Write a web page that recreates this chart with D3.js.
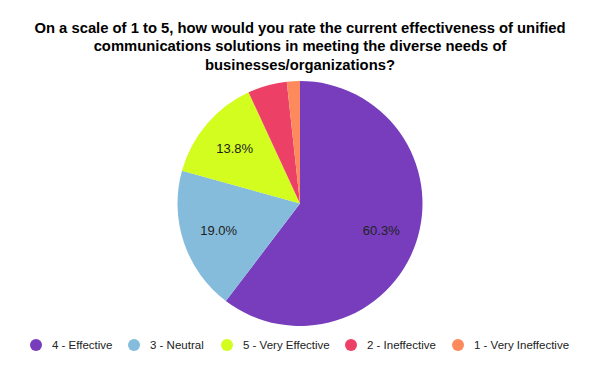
<!DOCTYPE html>
<html><head><meta charset="utf-8">
<script src="https://cdn.jsdelivr.net/npm/d3@7"></script>
<style>body{margin:0;background:#fff}svg{display:block;font-family:Arial,"Liberation Sans",sans-serif}</style>
</head><body>
<svg id="c" width="600" height="371"></svg>
<script>
const categories = ["4 - Effective","3 - Neutral","5 - Very Effective","2 - Ineffective","1 - Very Ineffective"];
const values = [35, 11, 8, 3, 1];
const colors = ["#773dbd","#85bcdc","#d2fd1e","#ec4067","#fd8a5c"];
const titleLines = ["On a scale of 1 to 5, how would you rate the current effectiveness of unified","communications solutions in meeting the diverse needs of","businesses/organizations?"];

const svg = d3.select("#c");
svg.append("rect").attr("width",600).attr("height",371).attr("fill","#fff");
svg.append("g").selectAll("text").data(titleLines).join("text")
  .attr("x",300).attr("y",(d,i)=>32.5+i*18.5).attr("text-anchor","middle")
  .attr("font-size",14.8).attr("font-weight","bold").attr("fill","#000").text(d=>d);

const cx=300, cy=203.5, R=122.5;
const total = d3.sum(values);
const pie = d3.pie().sort(null).value(d=>d)(values);
const arc = d3.arc().innerRadius(0).outerRadius(R);
const g = svg.append("g").attr("transform",`translate(${cx},${cy})`);
g.selectAll("path").data(pie).join("path").attr("d",arc).attr("fill",(d,i)=>colors[i]);
const lab = d3.arc().innerRadius(R*0.7).outerRadius(R*0.7);
g.selectAll("text").data(pie.filter(d=>d.data/total>0.06)).join("text")
  .attr("transform",d=>{const c=lab.centroid(d);return `translate(${c[0]},${c[1]})`;})
  .attr("text-anchor","middle").attr("dy","0.35em").attr("font-size",13).attr("fill","#222")
  .text(d=>(d.data/total*100).toFixed(1)+"%");

const legX = [36,134,227,351,458];
const lg = svg.append("g");
categories.forEach((c,i)=>{
  lg.append("circle").attr("cx",legX[i]).attr("cy",345).attr("r",6).attr("fill",colors[i]);
  lg.append("text").attr("x",legX[i]+16).attr("y",349).attr("font-size",11.5).attr("fill","#222").text(c);
});
</script>
</body></html>
